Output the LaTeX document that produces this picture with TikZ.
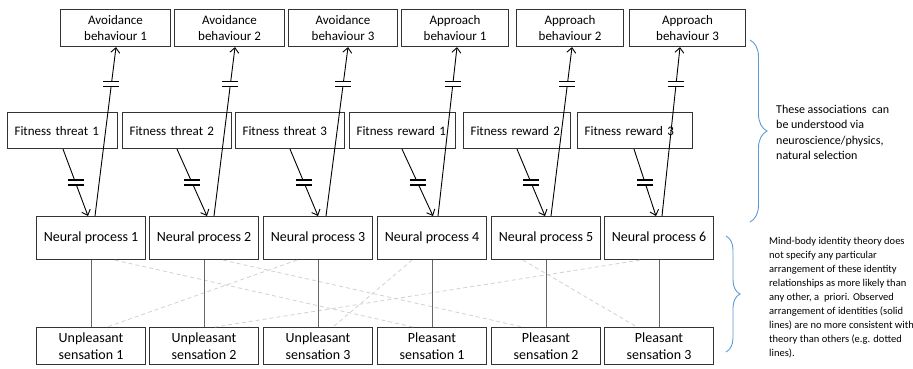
\documentclass[tikz,border=0pt]{standalone}
\usepackage{fontspec}
\setmainfont{Carlito}
\usetikzlibrary{arrows.meta, calc, decorations.pathreplacing}
\definecolor{bracecol}{HTML}{5B9BD5}
\tikzset{cut/.pic={\fill[white] (-8,-2.5) rectangle (8,2.5);
    \draw[line width=1.2pt] (-8,-2.5) -- (8,-2.5) (-8,2.5) -- (8,2.5);}}

\begin{document}
\begin{tikzpicture}[x=1pt, y=-1pt,
    box/.style={draw=black!80, line width=1.1pt, inner sep=0pt, anchor=north west, align=center},
    behav/.style={box, minimum height=37pt, font=\fontsize{13}{16}\selectfont},
    fitness/.style={box, minimum height=36pt, inner xsep=7pt, align=left, font=\fontsize{13}{16}\selectfont},
    neural/.style={box, minimum width=109pt, minimum height=43pt, font=\fontsize{14}{17}\selectfont},
    sens/.style={box, minimum width=109pt, minimum height=37pt, font=\fontsize{14}{17.5}\selectfont},
    link/.style={black, line width=0.9pt, -{Straight Barb[length=5pt,width=9pt]}},
    ident/.style={black!60, line width=1pt},
    alt/.style={black!18, line width=0.8pt, dash pattern=on 4pt off 3pt},
    bracket/.style={draw=bracecol, line width=0.9pt, decorate, decoration={brace, amplitude=#1}},
    note/.style={inner sep=0pt, anchor=north west, align=left, font=\fontsize{10.5}{14}\selectfont}
  ]
  \useasboundingbox (0,0) rectangle (913,368);

  % behaviours
  \node[behav, minimum width=110pt] (avoid1) at (60,9) {Avoidance\\behaviour 1};
  \node[behav, minimum width=110pt] (avoid2) at (174,9) {Avoidance\\behaviour 2};
  \node[behav, minimum width=109pt] (avoid3) at (288,9) {Avoidance\\behaviour 3};
  \node[behav, minimum width=107pt] (appr1) at (401,9) {Approach\\behaviour 1};
  \node[behav, minimum width=107pt] (appr2) at (516,9) {Approach\\behaviour 2};
  \node[behav, minimum width=116pt] (appr3) at (629,9) {Approach\\behaviour 3};

  % fitness
  \node[fitness, text width=96pt] (threat1) at (7,112) {Fitness threat 1};
  \node[fitness, text width=95pt] (threat2) at (122,112) {Fitness threat 2};
  \node[fitness, text width=95pt] (threat3) at (235,112) {Fitness threat 3};
  \node[fitness, text width=92pt] (reward1) at (349,112) {Fitness reward 1};
  \node[fitness, text width=93pt] (reward2) at (463,112) {Fitness reward 2};
  \node[fitness, text width=101pt] (reward3) at (577,112) {Fitness reward 3};

  % neural processes
  \node[neural] (np1) at (36,216) {Neural process 1};
  \node[neural] (np2) at (149,216) {Neural process 2};
  \node[neural] (np3) at (263,216) {Neural process 3};
  \node[neural] (np4) at (377,216) {Neural process 4};
  \node[neural] (np5) at (491,216) {Neural process 5};
  \node[neural] (np6) at (604,216) {Neural process 6};

  % sensations
  \node[sens] (unpl1) at (36,327) {Unpleasant\\sensation 1};
  \node[sens] (unpl2) at (149,327) {Unpleasant\\sensation 2};
  \node[sens] (unpl3) at (263,327) {Unpleasant\\sensation 3};
  \node[sens] (pleas1) at (377,327) {Pleasant\\sensation 1};
  \node[sens] (pleas2) at (491,327) {Pleasant\\sensation 2};
  \node[sens] (pleas3) at (604,327) {Pleasant\\sensation 3};

  % fitness -> neural
  \draw[link] ($(threat1.south west)+(56,0)$) -- coordinate[pos=0.5] (d1) ($(np1.north west)+(52,0)$);
  \draw[link] ($(threat2.south west)+(55,0)$) -- coordinate[pos=0.5] (d2) ($(np2.north west)+(58,0)$);
  \draw[link] ($(threat3.south west)+(55,0)$) -- coordinate[pos=0.5] (d3) ($(np3.north west)+(55,0)$);
  \draw[link] ($(reward1.south west)+(53,0)$) -- coordinate[pos=0.5] (d4) ($(np4.north west)+(56,0)$);
  \draw[link] ($(reward2.south west)+(54,0)$) -- coordinate[pos=0.5] (d5) ($(np5.north west)+(54,0)$);
  \draw[link] ($(reward3.south west)+(57,0)$) -- coordinate[pos=0.5] (d6) ($(np6.north west)+(52,0)$);

  % neural -> behaviour
  \draw[link] ($(np1.north west)+(59,0)$) -- coordinate[pos=0.78] (u1) ($(avoid1.south west)+(56,0)$);
  \draw[link] ($(np2.north west)+(65,0)$) -- coordinate[pos=0.78] (u2) ($(avoid2.south west)+(61,0)$);
  \draw[link] ($(np3.north west)+(63,0)$) -- coordinate[pos=0.78] (u3) ($(avoid3.south west)+(60,0)$);
  \draw[link] ($(np4.north west)+(61,0)$) -- coordinate[pos=0.78] (u4) ($(appr1.south west)+(56,0)$);
  \draw[link] ($(np5.north west)+(60,0)$) -- coordinate[pos=0.78] (u5) ($(appr2.south west)+(56,0)$);
  \draw[link] ($(np6.north west)+(58,0)$) -- coordinate[pos=0.78] (u6) ($(appr3.south west)+(51,0)$);

  \pic at (d1) {cut}; \pic at (d2) {cut}; \pic at (d3) {cut};
  \pic at (d4) {cut}; \pic at (d5) {cut}; \pic at (d6) {cut};
  \pic at (u1) {cut}; \pic at (u2) {cut}; \pic at (u3) {cut};
  \pic at (u4) {cut}; \pic at (u5) {cut}; \pic at (u6) {cut};

  % other possible identities
  \draw[alt] ($(np1.south west)+(79,0)$) -- ($(pleas1.north west)+(36,0)$);
  \draw[alt] ($(np2.south west)+(74,0)$) -- ($(pleas2.north west)+(32,0)$);
  \draw[alt] ($(np3.south west)+(34,0)$) -- ($(unpl1.north west)+(71,0)$);
  \draw[alt] ($(np4.south west)+(35,0)$) -- ($(unpl3.north west)+(70,0)$);
  \draw[alt] ($(np5.south west)+(32,0)$) -- ($(pleas3.north west)+(33,0)$);
  \draw[alt] ($(np6.south west)+(36,0)$) -- ($(unpl2.north west)+(66,0)$);

  % observed identities
  \draw[ident] (np1) -- (unpl1);
  \draw[ident] (np2) -- (unpl2);
  \draw[ident] (np3) -- (unpl3);
  \draw[ident] (np4) -- (pleas1);
  \draw[ident] (np5) -- (pleas2);
  \draw[ident] (np6) -- (pleas3);

  % notes
  \coordinate (b1top) at (750,40);
  \coordinate (b1bot) at (750,222);
  \coordinate (b2top) at (726,236);
  \coordinate (b2bot) at (726,352);
  \draw[bracket=17pt] (b1top) -- (b1bot);
  \draw[bracket=14pt] (b2top) -- (b2bot);
  \node[note, font=\fontsize{12}{15.3}\selectfont] (note1) at (776,105) {These associations~ can\\be understood via\\neuroscience/physics,\\natural selection};
  \node[note] (note2) at (769,237) {Mind-body identity theory does\\not specify any particular\\arrangement of these identity\\relationships as more likely than\\any other, a~ priori. Observed\\arrangement of identities (solid\\lines) are no more consistent with\\theory than others (e.g. dotted\\lines).};
\end{tikzpicture}
\end{document}
